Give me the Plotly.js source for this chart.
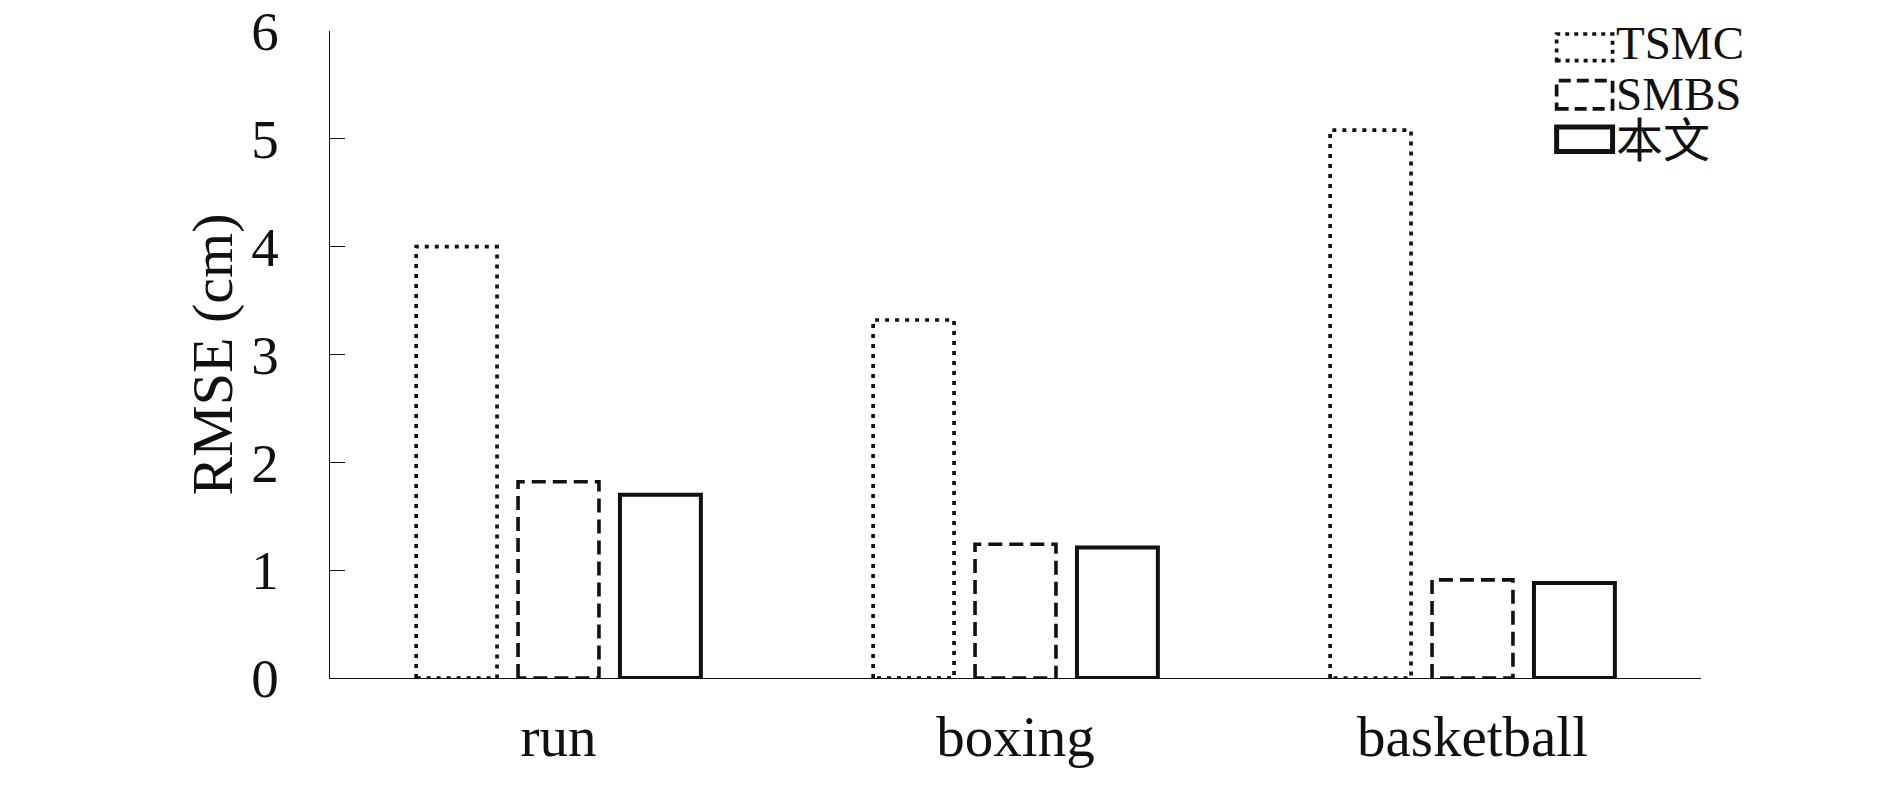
<!DOCTYPE html>
<html>
<head>
<meta charset="utf-8">
<script src="https://cdn.plot.ly/plotly-3.0.1.min.js"></script>
<style>
  html, body { margin: 0; padding: 0; background: #fff; }
  #chart { width: 1890px; height: 787px; }
</style>
</head>
<body>
<div id="chart"></div>
<script>
// categories and series
const categories = ['run', 'boxing', 'basketball'];
const seriesNames = ['TSMC', 'SMBS', '本文'];
const tsmc = [4.00, 3.32, 5.08];
const smbs = [1.82, 1.24, 0.91];
const ours = [1.70, 1.21, 0.88];
const yTicks = [0, 1, 2, 3, 4, 5, 6];

const FONT = 'Liberation Serif, "Times New Roman", "Noto Sans CJK SC", serif';
const INK = '#111';

// outline style per series: dash pattern is put on the svg paths after render
const STYLES = [
  { width: 3.7, dash: '4,6', legendDash: '4px,5px', legendWidth: 3.7 },
  { width: 3.6, dash: '14,7', legendDash: '12px,6px', legendWidth: 3.7 },
  { width: 4, dash: null, legendDash: 'solid', legendWidth: 5 }
];

const values = [tsmc, smbs, ours];
const traces = values.map((v, i) => ({
  type: 'bar', name: seriesNames[i], x: categories, y: v,
  marker: { color: 'rgba(255,255,255,0)', line: { color: INK, width: STYLES[i].width } },
  hoverinfo: 'x+y+name'
}));

// hand-drawn legend: wide outlined keys like the original figure
const LEG_ROWS = [
  { key: [0.9541, 0.9954], text: 0.9810 },
  { key: [0.8796, 0.9233], text: 0.9027 },
  { key: [0.8136, 0.8518], text: 0.8301 }
];
const shapes = LEG_ROWS.map((r, i) => ({
  type: 'rect', xref: 'paper', yref: 'paper',
  x0: 0.8947, x1: 0.9355, y0: r.key[0], y1: r.key[1],
  line: { color: INK, width: STYLES[i].legendWidth, dash: STYLES[i].legendDash },
  fillcolor: 'rgba(0,0,0,0)'
}));
const annotations = LEG_ROWS.map((r, i) => ({
  xref: 'paper', yref: 'paper', x: 0.9368, y: r.text,
  xanchor: 'left', yanchor: 'middle', showarrow: false,
  text: seriesNames[i], font: { family: FONT, size: 47, color: INK }
}));

const layout = {
  width: 1890, height: 787,
  paper_bgcolor: '#fff', plot_bgcolor: '#fff',
  margin: { l: 329.5, r: 188.5, t: 31, b: 108.5 },
  barmode: 'group', bargap: 0.331, bargroupgap: 0.206,
  showlegend: false,
  font: { family: FONT, color: INK, size: 56 },
  xaxis: {
    showline: true, linecolor: INK, linewidth: 1.3,
    ticks: '', showgrid: false, zeroline: false,
    tickfont: { family: FONT, size: 57, color: INK },
    ticklabelstandoff: 8
  },
  yaxis: {
    range: [0, 6], autorange: false,
    tickvals: yTicks, ticktext: yTicks.map(String),
    showline: true, linecolor: INK, linewidth: 1.3,
    ticks: 'inside', ticklen: 15, tickwidth: 1.3, tickcolor: INK,
    showgrid: false, zeroline: false,
    tickfont: { family: FONT, size: 55, color: INK },
    ticklabelstandoff: 39, ticklabeloverflow: 'allow',
    title: { text: 'RMSE (cm)', font: { family: FONT, size: 58, color: INK }, standoff: 0 }
  },
  shapes: shapes,
  annotations: annotations
};

Plotly.newPlot('chart', traces, layout, { displayModeBar: false, staticPlot: true }).then(gd => {
  const groups = gd.querySelectorAll('.barlayer .trace');
  groups.forEach((g, i) => {
    const dash = STYLES[i] && STYLES[i].dash;
    if (!dash) return;
    g.querySelectorAll('.point path').forEach(p => {
      p.style.strokeDasharray = dash;
      p.style.strokeLinecap = 'butt';
    });
  });
});
</script>
</body>
</html>
